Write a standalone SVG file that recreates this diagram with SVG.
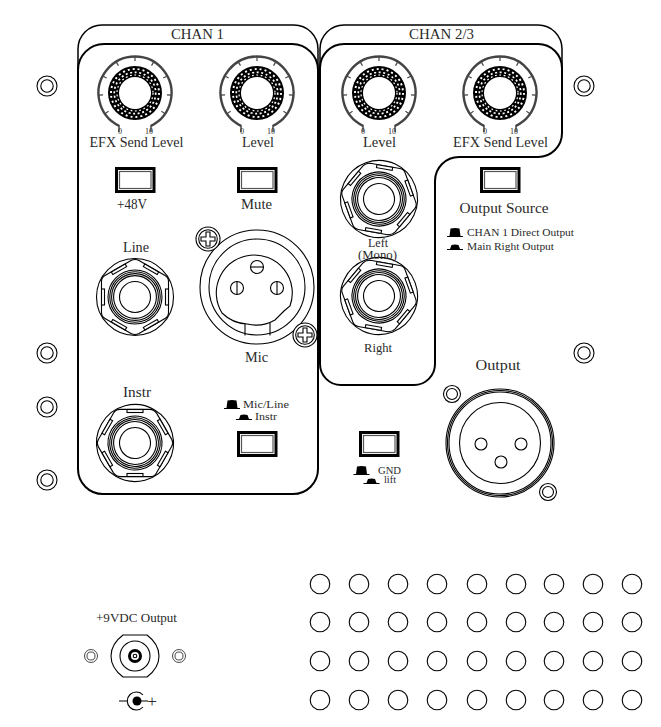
<svg xmlns="http://www.w3.org/2000/svg" width="661" height="727" viewBox="0 0 661 727">
<style>
text{font-family:"Liberation Serif","Times New Roman",serif;font-size:14px;fill:#2a2a2a;text-anchor:middle}
.s{font-size:10.5px}.t{font-size:8px}.m{font-size:12px}.n{font-size:11px}.g{font-size:9.5px}
.l{fill:none;stroke:#000;stroke-width:1.1}
.w{fill:#fff;stroke:#000;stroke-width:1.1}
.p{fill:#fff;stroke:#000;stroke-width:2}
.h{fill:#000}
</style>
<defs>
<g id="knob">
<path d="M-16,32.800A36.500,36.500 0 1 1 16,32.800" fill="none" stroke="#444" stroke-width="2.400"/>
<path d="M-16,32V39M16,32V39" stroke="#444" stroke-width="1.5" fill="none"/>
<g stroke="#444" stroke-width="1.2">
<path d="M0,-36V-32" transform="rotate(-124.5)"/><path d="M0,-36V-32" transform="rotate(-93.4)"/><path d="M0,-36V-32" transform="rotate(-62.2)"/><path d="M0,-36V-32" transform="rotate(-31.1)"/><path d="M0,-36V-32"/><path d="M0,-36V-32" transform="rotate(31.1)"/><path d="M0,-36V-32" transform="rotate(62.2)"/><path d="M0,-36V-32" transform="rotate(93.4)"/><path d="M0,-36V-32" transform="rotate(124.5)"/>
</g>
<circle r="27" fill="#000"/>
<circle r="24" fill="none" stroke="#fff" stroke-width="1.9" stroke-dasharray="2 3"/>
<circle r="20.7" fill="none" stroke="#fff" stroke-width="1.7" stroke-dasharray="2 2.6"/>
<circle r="18" fill="none" stroke="#fff" stroke-width="1.2" stroke-dasharray="1.8 2.6"/>
<circle r="16" fill="#fff"/>
</g>
<g id="switch">
<rect x="1.5" y="1.5" width="37.5" height="23" fill="#fff" stroke="#000" stroke-width="3"/>
<rect x="4.5" y="4.5" width="31.5" height="17" fill="#fff" stroke="#555" stroke-width="1.2"/>
</g>
<g id="jack">
<circle r="38.5" class="w"/>
<path class="l" d="M-4,-36.5Q0,-38.5 4,-36.5L30,-21.5Q33.5,-19.5 33.5,-15.5V15.5Q33.5,19.5 30,21.5L4,36.5Q0,38.5 -4,36.5L-30,21.5Q-33.5,19.5 -33.5,15.5V-15.5Q-33.5,-19.5 -30,-21.5Z"/>
<rect x="30.5" y="-8" width="3" height="16" class="w"/>
<rect x="30.5" y="-8" width="3" height="16" class="w" transform="rotate(60)"/>
<rect x="30.5" y="-8" width="3" height="16" class="w" transform="rotate(120)"/>
<rect x="30.5" y="-8" width="3" height="16" class="w" transform="rotate(180)"/>
<rect x="30.5" y="-8" width="3" height="16" class="w" transform="rotate(240)"/>
<rect x="30.5" y="-8" width="3" height="16" class="w" transform="rotate(300)"/>
<circle r="27" class="l"/><circle r="25.2" class="l"/><circle r="23.4" class="l"/><circle r="21.4" class="l"/>
<circle r="15.5" class="w"/>
</g>
<g id="mount"><circle r="10" class="w"/><circle r="6.2" class="w"/></g>
<g id="screw">
<circle r="12" class="w"/><circle r="9.3" class="w"/>
<path class="l" d="M-2,-7H2V-2H7V2H2V7H-2V2H-7V-2H-2Z"/>
</g>
<g id="washer"><circle r="8.5" class="w"/><circle r="5.5" class="w"/></g>
<path id="hatup" class="h" d="M-8,5H8V4H5.5L4.5,-3.5Q0,-4.5 -4.5,-3.5L-5.5,4H-8Z"/>
<path id="hatdn" class="h" d="M-8,3H8V2H5L3.5,-2Q0,-3 -3.5,-2L-5,2H-8Z"/>
<circle id="hole" r="9.8" class="w"/>
</defs>

<g id="connectors"/>

<g id="panel-chan1">
<path class="l" d="M78,70V49A24,24 0 0 1 102,25H294A24,24 0 0 1 318,49V70" style="stroke-width:1.5"/>
<path class="p" d="M78,70A26,26 0 0 1 104,44H292A26,26 0 0 1 318,70V469A25,25 0 0 1 293,494H103A25,25 0 0 1 78,469Z"/>
<text x="197.500" y="39" textLength="53" lengthAdjust="spacingAndGlyphs">CHAN 1</text>
</g>
<g id="panel-chan23">
<path class="l" d="M320,70V49A24,24 0 0 1 344,25H538A24,24 0 0 1 562,49V70" style="stroke-width:1.5"/>
<path class="p" d="M320,68A24,24 0 0 1 344,44H538A24,24 0 0 1 562,68V133A24,24 0 0 1 538,157H459A24,24 0 0 0 435,181V364A21,21 0 0 1 414,385H341A21,21 0 0 1 320,364Z"/>
<text x="441.500" y="39" textLength="65" lengthAdjust="spacingAndGlyphs">CHAN 2/3</text>
</g>

<g id="mounts">
<use href="#mount" x="47" y="86"/><use href="#mount" x="47" y="353"/><use href="#mount" x="47" y="407"/><use href="#mount" x="47" y="480"/><use href="#mount" x="584" y="86"/><use href="#mount" x="584" y="353"/>
</g>

<g id="knob-efx1"><use href="#knob" x="135" y="93"/><text class="t" x="120" y="134">0</text><text class="t" x="149" y="134">10</text><text x="136.500" y="147" textLength="94" lengthAdjust="spacingAndGlyphs">EFX Send Level</text></g>
<g id="knob-level1"><use href="#knob" x="257" y="93"/><text class="t" x="242" y="134">0</text><text class="t" x="271" y="134">10</text><text x="258" y="147" textLength="32" lengthAdjust="spacingAndGlyphs">Level</text></g>
<g id="knob-level23"><use href="#knob" x="379" y="93"/><text class="t" x="363" y="134">0</text><text class="t" x="392" y="134">10</text><text x="379.500" y="147" textLength="33" lengthAdjust="spacingAndGlyphs">Level</text></g>
<g id="knob-efx23"><use href="#knob" x="500" y="93"/><text class="t" x="485" y="134">0</text><text class="t" x="514" y="134">10</text><text x="500.500" y="147" textLength="95" lengthAdjust="spacingAndGlyphs">EFX Send Level</text></g>

<g id="sw-48v"><use href="#switch" x="115" y="167"/><text x="132" y="209" textLength="30" lengthAdjust="spacingAndGlyphs">+48V</text></g>
<g id="sw-mute"><use href="#switch" x="237" y="167"/><text x="256.500" y="209" textLength="31" lengthAdjust="spacingAndGlyphs">Mute</text></g>
<g id="sw-output-source"><use href="#switch" x="480" y="167"/><text x="504" y="213" textLength="89" lengthAdjust="spacingAndGlyphs">Output Source</text>
<use href="#hatup" x="455" y="232"/><text class="s" x="520.500" y="236" textLength="107" lengthAdjust="spacingAndGlyphs">CHAN 1 Direct Output</text>
<use href="#hatdn" x="455" y="247"/><text class="s" x="510.500" y="250" textLength="87" lengthAdjust="spacingAndGlyphs">Main Right Output</text></g>
<g id="sw-micline"><use href="#switch" x="237" y="431"/><use href="#hatup" x="232" y="404"/><text class="n" x="266" y="407.500" textLength="46" lengthAdjust="spacingAndGlyphs">Mic/Line</text><use href="#hatdn" x="244" y="417"/><text class="n" x="266" y="420" textLength="22" lengthAdjust="spacingAndGlyphs">Instr</text></g>
<g id="sw-gnd"><use href="#switch" x="359" y="431"/><use href="#hatup" x="361.500" y="470"/><use href="#hatdn" x="371.500" y="481"/><text class="g" x="389.500" y="473.500" textLength="23" lengthAdjust="spacingAndGlyphs">GND</text><text class="g" x="390" y="483" textLength="12" lengthAdjust="spacingAndGlyphs">lift</text></g>

<g id="jack-line"><use href="#jack" x="135" y="297"/><text x="136" y="252" textLength="26" lengthAdjust="spacingAndGlyphs">Line</text></g>
<g id="jack-instr"><use href="#jack" transform="translate(135,443) rotate(30)"/><text x="137" y="397" textLength="28" lengthAdjust="spacingAndGlyphs">Instr</text></g>
<g id="jack-left"><use href="#jack" transform="translate(379,199) rotate(-20)"/></g>
<g id="jack-right"><use href="#jack" transform="translate(379,296) rotate(-20)"/><text class="m" x="378" y="246.500" textLength="20" lengthAdjust="spacingAndGlyphs">Left</text><text class="m" x="377.500" y="259" textLength="39" lengthAdjust="spacingAndGlyphs">(Mono)</text><text class="m" x="378" y="352" textLength="28" lengthAdjust="spacingAndGlyphs">Right</text></g>

<g id="xlr-mic">
<circle cx="257" cy="287" r="57" class="w"/>
<circle cx="257" cy="287" r="48" class="l"/>
<path class="l" d="M222,313A38,38 0 1 1 290,306L284,311L275,320A38,38 0 0 1 247,324A38,38 0 0 1 222,313Z"/>
<path class="l" d="M245,324V335.500M270,323V335.500"/>
<circle cx="237" cy="288" r="6.500" class="w"/><path class="l" d="M237,281.500V294.500"/>
<circle cx="277" cy="288" r="6.500" class="w"/><path class="l" d="M277,281.500V294.500"/>
<circle cx="257" cy="267" r="6.500" class="w"/><path class="l" d="M250.500,267H263.500"/>
<use href="#screw" x="208" y="239"/><use href="#screw" x="305" y="335"/>
<text x="256.500" y="362" textLength="23" lengthAdjust="spacingAndGlyphs">Mic</text>
</g>

<g id="xlr-output">
<circle cx="500" cy="443" r="54" class="w"/><circle cx="500" cy="443" r="52.500" class="l"/><circle cx="500" cy="443" r="51" class="l"/>
<circle cx="500" cy="443" r="40.500" class="l"/>
<circle cx="481" cy="444" r="6" class="w"/><circle cx="521" cy="444" r="6" class="w"/><circle cx="501" cy="462" r="6" class="w"/>
<use href="#washer" x="452" y="394"/><use href="#washer" x="548" y="492"/>
<text x="498" y="370" textLength="45" lengthAdjust="spacingAndGlyphs">Output</text>
</g>

<g id="power">
<text class="m" x="136.500" y="622" textLength="81" lengthAdjust="spacingAndGlyphs">+9VDC Output</text>
<path class="w" d="M123,635H147Q159,644 159,656Q159,668 147,677H123Q111,668 111,656Q111,644 123,635Z"/>
<circle cx="135" cy="656" r="15" class="l"/>
<circle cx="135" cy="656" r="5.500" fill="#fff" stroke="#000" stroke-width="3"/>
<circle cx="135" cy="656" r="1.800" class="l"/>
<use href="#mount" transform="translate(91,656) scale(.65)"/>
<use href="#mount" transform="translate(179,656) scale(.65)"/>
<path class="l" d="M119,701H127M143,695A9,9 0 1 0 143,707M137,701H148"/>
<circle cx="137" cy="701" r="4.500" fill="#000"/>
<text x="152" y="706.500" style="font-size:17px">+</text>
</g>

<g id="holes">
<use href="#hole" x="320" y="584"/><use href="#hole" x="359" y="584"/><use href="#hole" x="398" y="584"/><use href="#hole" x="437" y="584"/><use href="#hole" x="477" y="584"/><use href="#hole" x="516" y="584"/><use href="#hole" x="554" y="584"/><use href="#hole" x="593" y="584"/><use href="#hole" x="632" y="584"/>
<use href="#hole" x="320" y="622"/><use href="#hole" x="359" y="622"/><use href="#hole" x="398" y="622"/><use href="#hole" x="437" y="622"/><use href="#hole" x="477" y="622"/><use href="#hole" x="516" y="622"/><use href="#hole" x="554" y="622"/><use href="#hole" x="593" y="622"/><use href="#hole" x="632" y="622"/>
<use href="#hole" x="320" y="661"/><use href="#hole" x="359" y="661"/><use href="#hole" x="398" y="661"/><use href="#hole" x="437" y="661"/><use href="#hole" x="477" y="661"/><use href="#hole" x="516" y="661"/><use href="#hole" x="554" y="661"/><use href="#hole" x="593" y="661"/><use href="#hole" x="632" y="661"/>
<use href="#hole" x="320" y="700"/><use href="#hole" x="359" y="700"/><use href="#hole" x="398" y="700"/><use href="#hole" x="437" y="700"/><use href="#hole" x="477" y="700"/><use href="#hole" x="516" y="700"/><use href="#hole" x="554" y="700"/><use href="#hole" x="593" y="700"/><use href="#hole" x="632" y="700"/>
</g>
</svg>
